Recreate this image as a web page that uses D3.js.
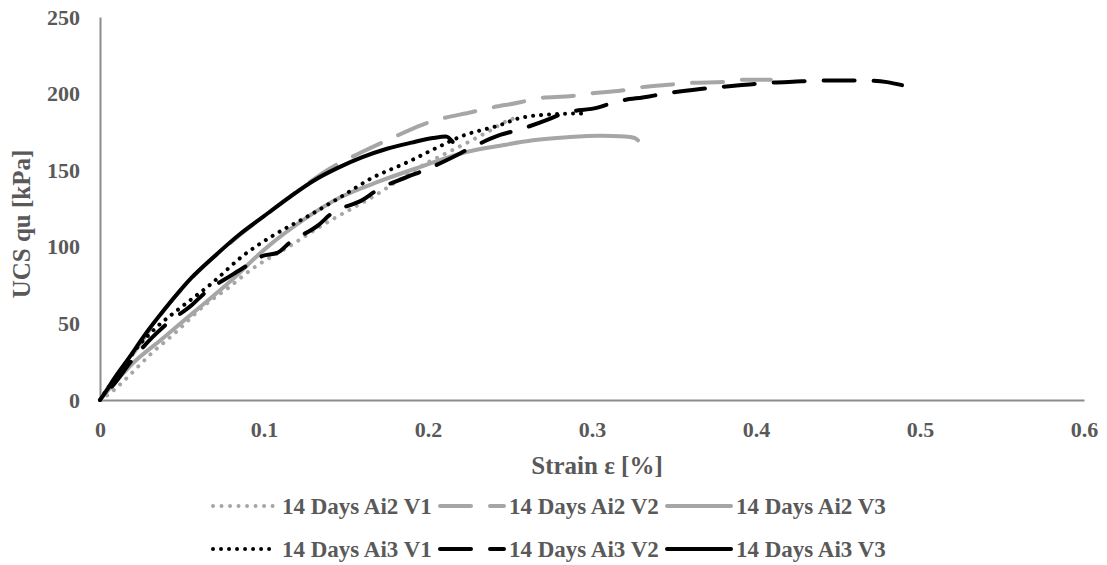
<!DOCTYPE html>
<html>
<head>
<meta charset="utf-8">
<script src="https://cdn.jsdelivr.net/npm/d3@7"></script>
<style>
  html, body { margin: 0; padding: 0; background: #fff; }
  svg { display: block; }
  text { font-family: "Liberation Serif", "Times New Roman", serif; font-weight: bold; fill: #595959; }
</style>
</head>
<body>
<svg id="chart" width="1107" height="565"></svg>
<script>
// ---------- DATA ----------
const xTicks = [0, 0.1, 0.2, 0.3, 0.4, 0.5, 0.6];
const yTicks = [0, 50, 100, 150, 200, 250];
const xTitle = "Strain ε [%]";
const yTitle = "UCS qu [kPa]";
const seriesNames = ["14 Days Ai2 V1", "14 Days Ai2 V2", "14 Days Ai2 V3",
                     "14 Days Ai3 V1", "14 Days Ai3 V2", "14 Days Ai3 V3"];

// [strain %, UCS kPa]
const ai2V1 = [[0,0],[0.008,6],[0.015,13],[0.032,31],[0.046,44],[0.064,62],[0.078,73],[0.092,85],
  [0.115,100],[0.137,115],[0.157,127],[0.167,133],[0.18,142],[0.198,154],[0.209,160],[0.224,168],
  [0.238,176],[0.25,183],[0.253,184]];
const ai2V2 = [[0,0],[0.01,16],[0.02,30],[0.04,60],[0.06,84],[0.08,103],[0.1,120],[0.12,136],
  [0.14,151],[0.16,162],[0.178,171],[0.196,179.5],[0.206,183],[0.227,188],[0.237,190.5],[0.257,194.5],
  [0.267,197],[0.288,198.5],[0.298,200],[0.318,202],[0.329,204],[0.349,206],[0.36,207],[0.381,207.6],
  [0.391,209],[0.409,209]];
const ai2V3 = [[0,0],[0.008,10],[0.02,24],[0.038,40],[0.058,58],[0.08,78],[0.1,98],[0.126,119],
  [0.146,132],[0.171,143],[0.195,152],[0.224,162],[0.244,166],[0.264,169.5],[0.285,171.5],
  [0.305,172.5],[0.32,172],[0.326,171],[0.328,169.5]];
const ai3V1 = [[0,0],[0.005,8],[0.012,18],[0.021,32],[0.034,47],[0.05,61],[0.068,76],[0.087,94],
  [0.105,107],[0.126,119.5],[0.146,132],[0.166,145],[0.187,155],[0.205,164.5],[0.22,172],
  [0.244,179.5],[0.256,184],[0.276,186.5],[0.293,187],[0.297,185]];
const ai3V2 = [[0,0],[0.009,11],[0.0195,26],[0.032,41],[0.041,50],[0.056,62],[0.064,70],[0.081,82],
  [0.09,88],[0.099,94],[0.108,96],[0.116,103],[0.133,114],[0.1415,122],[0.16,130.5],[0.169,137],
  [0.187,145.5],[0.198,150],[0.215,158.5],[0.226,164.5],[0.244,173],[0.254,176],[0.273,183],
  [0.282,187],[0.304,191],[0.314,194.5],[0.334,198],[0.3445,200],[0.366,203],[0.375,204],
  [0.396,206],[0.407,207],[0.428,208],[0.437,208.5],[0.4585,208.5],[0.468,208.5],[0.48,207.5],
  [0.489,205.5]];
const ai3V3 = [[0,0],[0.002,3],[0.01,16],[0.018,28],[0.027,42],[0.04,60],[0.056,80],[0.07,94],
  [0.085,108],[0.1,120],[0.115,132],[0.13,143],[0.145,151.5],[0.16,158.5],[0.175,164],[0.19,168],
  [0.203,171],[0.211,172],[0.215,168.5]];
const seriesValues = [ai2V1, ai2V2, ai2V3, ai3V1, ai3V2, ai3V3];

// ---------- STYLES ----------
const GRAY = "#a6a6a6", BLACK = "#000000";
const styles = [
  {color: GRAY,  dash: "0.01,8.5", period: 0},
  {color: GRAY,  dash: "31,19", period: 50},
  {color: GRAY,  dash: null, period: 0},
  {color: BLACK, dash: "0.01,8", period: 0},
  {color: BLACK, dash: "31,19", period: 50},
  {color: BLACK, dash: null, period: 0}
];

const svg = d3.select("#chart");
const x = d3.scaleLinear().domain([0, 0.6]).range([100, 1084]);
const y = d3.scaleLinear().domain([0, 250]).range([400, 17]);

// axes
const xAxis = svg.append("g").attr("transform", "translate(0,400)")
  .call(d3.axisBottom(x).tickValues(xTicks).tickFormat(d3.format("")).tickSize(0).tickSizeOuter(0).tickPadding(21));
const yAxis = svg.append("g").attr("transform", "translate(100,0)")
  .call(d3.axisLeft(y).tickValues(yTicks).tickSize(0).tickSizeOuter(0).tickPadding(20));
[xAxis, yAxis].forEach(g => {
  g.select(".domain").attr("stroke", "#8c8c8c").attr("stroke-width", 2);
  g.selectAll("text").style("font-size", "22px").attr("fill", "#595959");
});

// axis titles
svg.append("text").attr("x", 597).attr("y", 474).attr("text-anchor", "middle")
  .style("font-size", "25px").text(xTitle);
svg.append("text").attr("transform", "translate(30,224) rotate(-90)").attr("text-anchor", "middle")
  .style("font-size", "25px").text(yTitle);

// lines
const line = d3.line().x(d => x(d[0])).y(d => y(d[1])).curve(d3.curveMonotoneX);
seriesValues.forEach((vals, i) => {
  const p = svg.append("path").datum(vals)
    .attr("d", line)
    .attr("fill", "none")
    .attr("stroke", styles[i].color)
    .attr("stroke-width", 4)
    .attr("stroke-linecap", "round")
    .attr("stroke-linejoin", "round")
    .attr("stroke-dasharray", styles[i].dash);
  if (styles[i].period) {
    // shift the dash pattern so that the line ends inside a dash
    const L = p.node().getTotalLength();
    const r = L % styles[i].period;
    p.attr("stroke-dashoffset", 29 - r);
  }
});

// legend
const legendX = [213, 440, 667];
const legendY = [506, 549];
const sampleLen = 64;
seriesNames.forEach((name, i) => {
  const col = i % 3, row = Math.floor(i / 3);
  const g = svg.append("g").attr("transform", `translate(${legendX[col]},${legendY[row]})`);
  g.append("line").attr("x1", 0).attr("x2", sampleLen).attr("y1", 0).attr("y2", 0)
    .attr("stroke", styles[i].color).attr("stroke-width", 4)
    .attr("stroke-linecap", "round")
    .attr("stroke-dasharray", styles[i].dash);
  g.append("text").attr("x", sampleLen + 5).attr("y", 0).attr("dy", "0.34em")
    .style("font-size", "23px").text(name);
});
</script>
</body>
</html>
